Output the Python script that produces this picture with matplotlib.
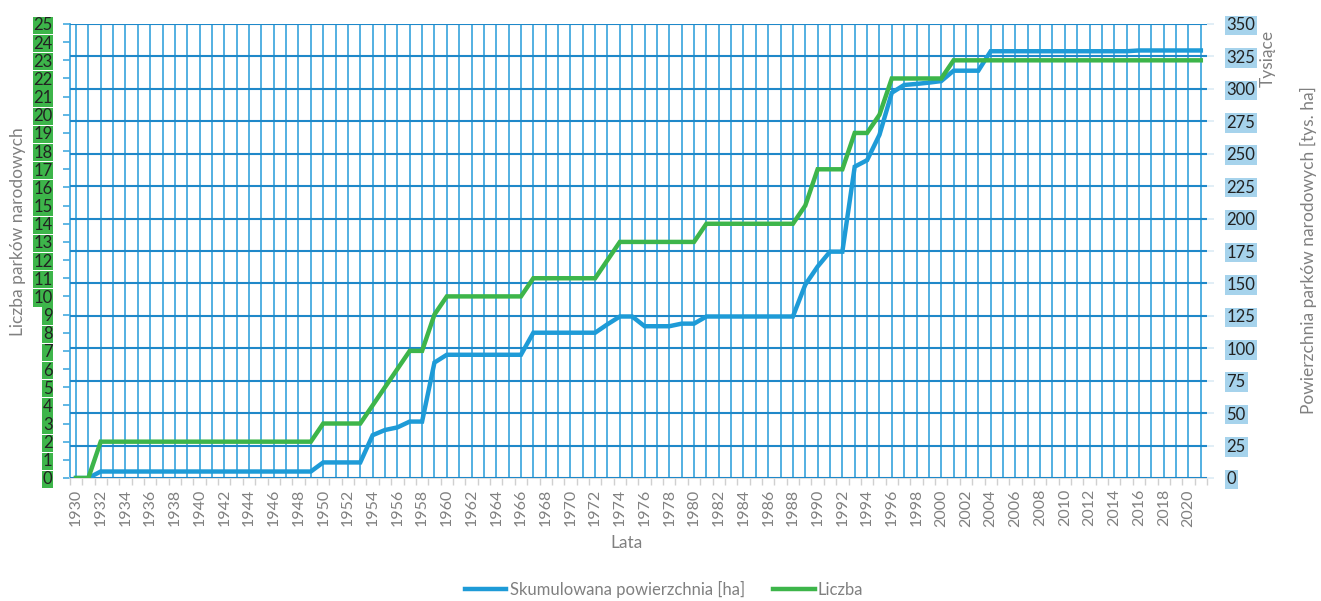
import matplotlib
matplotlib.use("Agg")
import matplotlib.pyplot as plt
from matplotlib.ticker import FixedLocator

plt.rcParams['font.family'] = ['Lato', 'DejaVu Sans']

# ---- data ----
years = list(range(1930, 2022))
liczba = ([0, 0] + [2] * 18 + [3] * 4 + [4, 5, 6, 7, 7, 9] + [10] * 7 + [11] * 6 + [12] + [13] * 7
          + [14] * 8 + [15] + [17] * 3 + [19] * 2 + [20] + [22] * 5 + [23] * 21)
powierzchnia = ([0, 0] + [5] * 18 + [12] * 4 + [33, 37, 39, 43.5, 43.5, 89] + [95] * 7 + [112] * 6
                + [118.5, 124.5, 124.5, 117, 117, 117, 119, 119] + [124.5] * 8
                + [149, 163, 174.5, 174.5, 240, 245, 264.5, 297, 303, 303.8, 304.8, 306]
                + [314] * 3 + [329] * 12 + [329.6] * 6)   # tys. ha
left_ticks = list(range(0, 26))
right_ticks = list(range(0, 351, 25))
xlabels = [str(y) if y % 2 == 0 else '' for y in years]

BLUE = '#1E9BD7'
GREEN = '#3DB54A'
HGRID = '#1F88C9'
VGRID = '#45AADF'
GREY = '#808080'

fig = plt.figure(figsize=(13.21, 6.01), dpi=100)
ax = fig.add_axes([69.8 / 1321, 1 - 478 / 601, (1207 - 69.8) / 1321, (478 - 24) / 601])
ax2 = ax.twinx()
ax3 = ax.twinx()

x = list(range(len(years)))

# bottom axes: vertical grid, x ticks, left axis
ax.set_xlim(-0.5, len(years) - 0.5)
ax.set_ylim(0, 25)
ax.xaxis.set_major_locator(FixedLocator(x))
ax.set_xticklabels(xlabels, rotation=90, color=GREY, fontsize=11.5)
ax.xaxis.set_minor_locator(FixedLocator([i + 0.5 for i in range(-1, len(years))]))
ax.tick_params(axis='x', which='major', length=0, pad=8)
ax.tick_params(axis='x', which='minor', length=5, color='#D0D0D0', width=1)
ax.grid(axis='x', which='major', color=VGRID, lw=1.3)
ax.set_axisbelow(True)
ax.set_yticks(left_ticks)
ax.tick_params(axis='y', length=5, color=VGRID, width=1.2, pad=7.5, labelsize=12, labelcolor='#222222')
for lab in ax.get_yticklabels():
    lab.set_bbox(dict(facecolor=GREEN, edgecolor='none', pad=0.5))
for s in ['top', 'right']:
    ax.spines[s].set_visible(False)
ax.spines['left'].set_color(VGRID)
ax.spines['left'].set_linewidth(1.3)
ax.spines['bottom'].set_color('#D9D9D9')
ax.spines['bottom'].set_linewidth(1.2)

# right axis: horizontal grid + blue line
ax2.set_ylim(0, 350)
ax2.set_yticks(right_ticks)
ax2.tick_params(axis='y', length=5, color='#DCEBF5', width=1.2, pad=9, labelsize=12, labelcolor='#222222')
for lab in ax2.get_yticklabels():
    lab.set_bbox(dict(facecolor='#A6D3EC', edgecolor='none', pad=1.3))
ax2.grid(axis='y', color=HGRID, lw=1.5)
ax2.set_axisbelow(True)
for s in ax2.spines.values():
    s.set_visible(False)
l1, = ax2.plot(x, powierzchnia, color=BLUE, lw=3.2, solid_joinstyle='miter', label='Skumulowana powierzchnia [ha]')

# top layer: green line
ax3.set_ylim(0, 25)
ax3.set_yticks([])
for s in ax3.spines.values():
    s.set_visible(False)
l2, = ax3.plot(x, liczba, color=GREEN, lw=3.2, solid_joinstyle='miter', label='Liczba')

# titles
fig.text(18 / 1321, 1 - 232 / 601, 'Liczba parków narodowych', rotation=90, ha='center', va='center',
         color=GREY, fontsize=12.5)
fig.text(1308 / 1321, 1 - 250 / 601, 'Powierzchnia parków narodowych [tys. ha]', rotation=90,
         ha='center', va='center', color=GREY, fontsize=12.5)
fig.text(1268 / 1321, 1 - 58 / 601, 'Tysiące', rotation=90, ha='center', va='center', color=GREY, fontsize=12.5)
fig.text(627 / 1321, 1 - 543 / 601, 'Lata', ha='center', va='center', color=GREY, fontsize=12.5)

fig.legend(handles=[l1, l2], loc='center', bbox_to_anchor=(664 / 1321, 1 - 589 / 601), ncol=2,
           frameon=False, fontsize=12, handlelength=2.5, handletextpad=0.2, columnspacing=1.7,
           labelcolor=GREY)

fig.savefig('out.png', dpi=100)
